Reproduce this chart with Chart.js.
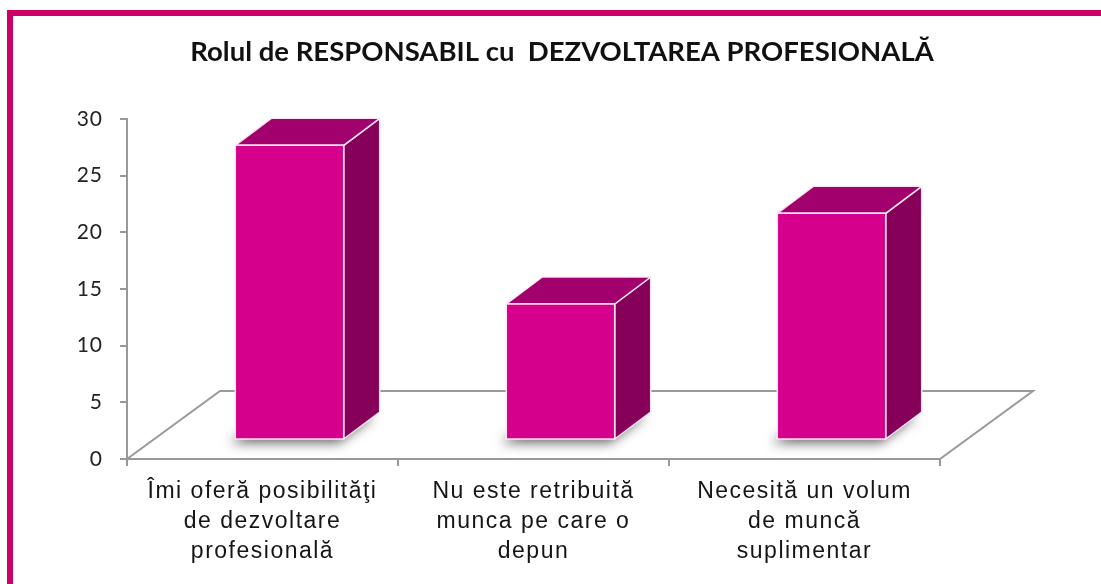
<!DOCTYPE html>
<html>
<head>
<meta charset="utf-8">
<script src="https://cdn.jsdelivr.net/npm/chart.js@4.4.1/dist/chart.umd.min.js"></script>
<style>
  html, body { margin: 0; padding: 0; background: #ffffff; overflow: hidden; }
  #wrap { position: relative; width: 1101px; height: 584px; }
  #c { position: absolute; left: 0; top: 0; }
  #frame { position: absolute; left: 7px; top: 10px; width: 1110px; height: 600px;
           border-left: 6px solid #CC0066; border-top: 6px solid #CC0066; pointer-events: none; }
</style>
</head>
<body>
<div id="wrap">
  <canvas id="c" width="1101" height="584"></canvas>
  <div id="frame"></div>
</div>
<script>
// ---- data ----
const chartTitle = "Rolul de RESPONSABIL cu  DEZVOLTAREA PROFESIONALĂ";
const categories = [
  ["Îmi oferă posibilităţi", "de dezvoltare", "profesională"],
  ["Nu este retribuită", "munca pe care o", "depun"],
  ["Necesită un volum", "de muncă", "suplimentar"]
];
const values = [26, 12, 20];
const yTicks = [0, 5, 10, 15, 20, 25, 30];

// ---- 3D look ----
const FLOOR_DX = 93, FLOOR_DY = -68;   // depth of floor
const FACE_DX = 27, FACE_DY = -19;     // bar front face position within floor depth
const BAR_DX = 36, BAR_DY = -27;       // bar depth
const COL_FRONT = "#D5008C", COL_SIDE = "#86005A", COL_TOP = "#A2006C";

function wrapMethod(obj, name, spacing) {
  if (!obj || !obj[name]) return;
  const key = "__wrapped_" + name;
  if (obj[key]) return;
  const orig = obj[name];
  obj[name] = function (...args) {
    const ctx = this.ctx || this.chart.ctx;
    ctx.save();
    ctx.letterSpacing = spacing;
    const res = orig.apply(this, args);
    ctx.restore();
    return res;
  };
  obj[key] = true;
}

const bar3d = {
  id: "bar3d",
  afterLayout(chart) {
    const tb = chart.titleBlock;
    if (tb) { tb.left = 23; tb.right = 1101; }
    wrapMethod(chart.scales.x, "drawLabels", "1.5px");
    wrapMethod(chart.scales.y, "drawLabels", "1px");
  },
  beforeDatasetsDraw(chart) {
    const ctx = chart.ctx, a = chart.chartArea;
    ctx.save();
    ctx.strokeStyle = "#999999";
    ctx.lineWidth = 2;
    ctx.lineJoin = "miter";
    ctx.beginPath();
    ctx.moveTo(a.left, a.bottom);
    ctx.lineTo(a.left + FLOOR_DX, a.bottom + FLOOR_DY);
    ctx.lineTo(a.right + FLOOR_DX, a.bottom + FLOOR_DY);
    ctx.lineTo(a.right, a.bottom);
    ctx.stroke();
    ctx.restore();
  },
  afterDatasetsDraw(chart) {
    const ctx = chart.ctx;
    const meta = chart.getDatasetMeta(0);
    meta.data.forEach((el) => {
      const p = el.getProps(["x", "y", "base", "width"], true);
      const l = p.x - p.width / 2 + FACE_DX, r = p.x + p.width / 2 + FACE_DX;
      const t = p.y + FACE_DY, b = p.base + FACE_DY;
      ctx.save();
      // shadow on floor
      ctx.shadowColor = "rgba(0,0,0,0.6)";
      ctx.shadowBlur = 12;
      ctx.shadowOffsetX = -5;
      ctx.shadowOffsetY = 4;
      ctx.fillStyle = "#888";
      ctx.beginPath();
      ctx.moveTo(l, b); ctx.lineTo(r, b); ctx.lineTo(r + BAR_DX, b + BAR_DY); ctx.lineTo(l + BAR_DX, b + BAR_DY);
      ctx.closePath(); ctx.fill();
      ctx.restore();

      ctx.save();
      ctx.strokeStyle = "rgba(255,235,245,0.95)";
      ctx.lineWidth = 1.5;
      ctx.lineJoin = "round";
      // side face
      ctx.fillStyle = COL_SIDE;
      ctx.beginPath();
      ctx.moveTo(r, t); ctx.lineTo(r + BAR_DX, t + BAR_DY); ctx.lineTo(r + BAR_DX, b + BAR_DY); ctx.lineTo(r, b);
      ctx.closePath(); ctx.fill(); ctx.stroke();
      // top face
      ctx.fillStyle = COL_TOP;
      ctx.beginPath();
      ctx.moveTo(l, t); ctx.lineTo(r, t); ctx.lineTo(r + BAR_DX, t + BAR_DY); ctx.lineTo(l + BAR_DX, t + BAR_DY);
      ctx.closePath(); ctx.fill(); ctx.stroke();
      // front face
      ctx.fillStyle = COL_FRONT;
      ctx.beginPath();
      ctx.rect(l, t, r - l, b - t);
      ctx.fill(); ctx.stroke();
      ctx.restore();
    });
  }
};

new Chart(document.getElementById("c"), {
  type: "bar",
  data: {
    labels: categories,
    datasets: [{
      data: values,
      backgroundColor: "rgba(0,0,0,0)",
      borderWidth: 0,
      barPercentage: 0.4,
      categoryPercentage: 1.0
    }]
  },
  options: {
    responsive: false,
    animation: false,
    events: [],
    layout: { padding: { left: 0, right: 161, top: 0, bottom: 0 } },
    plugins: {
      legend: { display: false },
      tooltip: { enabled: false },
      title: {
        display: true,
        text: chartTitle,
        color: "#111111",
        font: { family: "Lato", size: 27.5, weight: "bold", lineHeight: 1.2 },
        padding: { top: 36, bottom: 50 }
      }
    },
    scales: {
      x: {
        offset: true,
        grid: { display: true, drawOnChartArea: false, drawTicks: true, tickLength: 7, color: "#999999", lineWidth: 2, offset: true },
        border: { display: true, color: "#999999", width: 2 },
        ticks: { color: "#151515", padding: 11, font: { family: "Liberation Sans", size: 23, lineHeight: 1.3 }, maxRotation: 0, autoSkip: false },
        afterFit(scale) { scale.height = 125; }
      },
      y: {
        min: 0, max: 30,
        afterBuildTicks(scale) { scale.ticks = yTicks.map(v => ({ value: v })); },
        grid: { display: true, drawOnChartArea: false, drawTicks: true, tickLength: 7, color: "#999999", lineWidth: 2 },
        border: { display: true, color: "#999999", width: 2 },
        ticks: { color: "#222222", padding: 17, font: { family: "Lato", size: 21 } },
        afterFit(scale) { scale.width = 127; }
      }
    }
  },
  plugins: [bar3d]
});
</script>
</body>
</html>
